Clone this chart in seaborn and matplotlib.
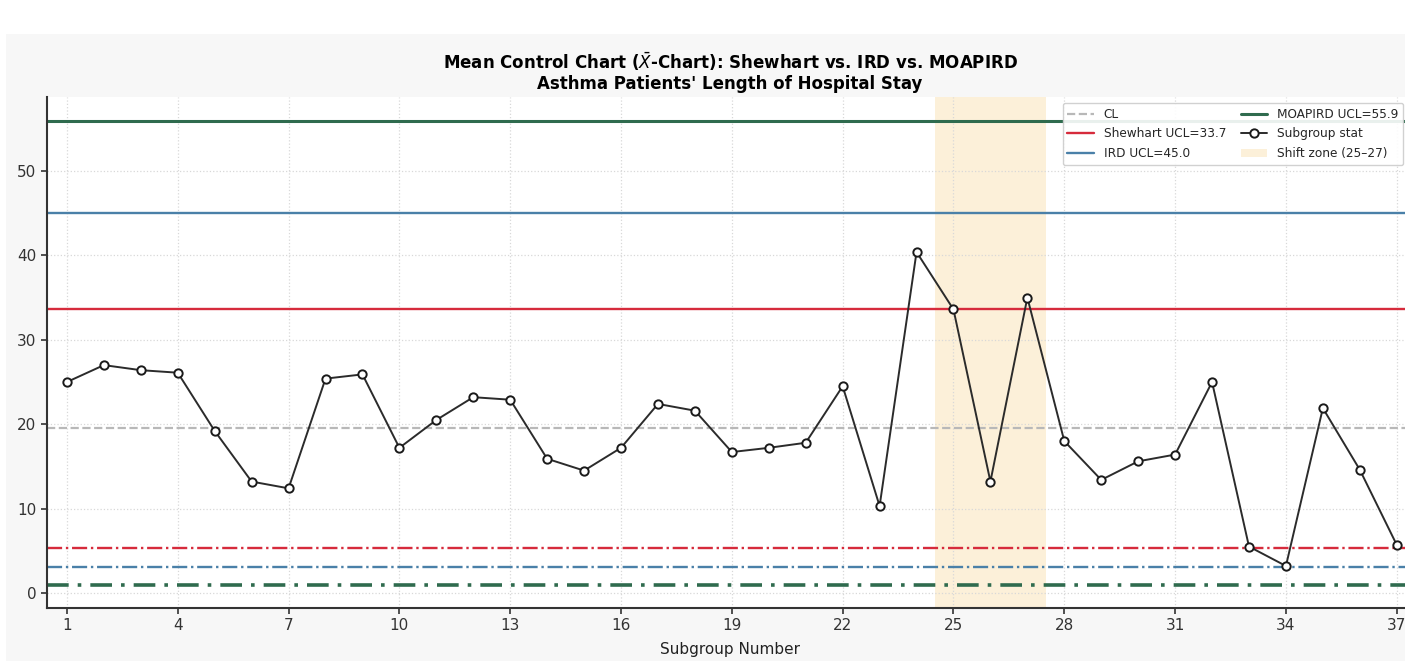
import numpy as np
import pandas as pd
import matplotlib
matplotlib.use("Agg")
import matplotlib.pyplot as plt
from matplotlib.patches import Rectangle
import seaborn as sns

# Subgroup means of length of stay (days)
subgroups = list(range(1, 38))
subgroup_means = [25.0, 27.0, 26.4, 26.1, 19.2, 13.2, 12.4, 25.4, 25.9, 17.2,
                  20.5, 23.2, 22.9, 15.9, 14.5, 17.2, 22.4, 21.6, 16.7, 17.2,
                  17.8, 24.5, 10.3, 40.4, 33.6, 13.2, 35.0, 18.0, 13.4, 15.6,
                  16.4, 25.0, 5.5, 3.2, 21.9, 14.6, 5.7]

center_line = 19.5
shewhart_limits = (5.3, 33.7)   # (LCL, UCL)
ird_limits = (3.1, 45.0)
moapird_limits = (1.0, 55.9)
shift_zone = (25, 27)
x_ticks = list(range(1, 38, 3))
y_ticks = [0, 10, 20, 30, 40, 50]

c_shewhart = "#d62b3c"
c_ird = "#4a80a8"
c_moapird = "#2f6b4e"
c_cl = "#b8b8b8"
c_zone = "#fbe3b5"

sns.set_style("white")
plt.rcParams["font.family"] = ["DejaVu Sans"]

W, H = 1405, 661
fig = plt.figure(figsize=(W / 100, H / 100), dpi=100, facecolor="white")
# light panel behind the plot
fig.patches.append(Rectangle((6 / W, 0), 1, (H - 34) / H, transform=fig.transFigure,
                             facecolor="#f7f7f7", edgecolor="none", zorder=-10))

ax = fig.add_axes([47 / W, (H - 608) / H, (1413 - 47) / W, (608 - 97) / H])
ax.set_facecolor("white")

ax.axvspan(shift_zone[0] - 0.5, shift_zone[1] + 0.5, color=c_zone, alpha=0.5,
           lw=0, zorder=0, label=f"Shift zone ({shift_zone[0]}\u2013{shift_zone[1]})")

ax.axhline(center_line, color=c_cl, ls="--", lw=1.6, label="CL", zorder=1)
ax.axhline(shewhart_limits[1], color=c_shewhart, lw=1.7,
           label=f"Shewhart UCL={shewhart_limits[1]:.1f}", zorder=2)
ax.axhline(shewhart_limits[0], color=c_shewhart, lw=1.7, ls="-.", zorder=2)
ax.axhline(ird_limits[1], color=c_ird, lw=1.7,
           label=f"IRD UCL={ird_limits[1]:.1f}", zorder=2)
ax.axhline(ird_limits[0], color=c_ird, lw=1.7, ls="-.", zorder=2)
ax.axhline(moapird_limits[1], color=c_moapird, lw=2.2,
           label=f"MOAPIRD UCL={moapird_limits[1]:.1f}", zorder=2)
ax.axhline(moapird_limits[0], color=c_moapird, lw=2.6, ls=(0, (6, 2.5, 1, 2.5)), zorder=2)

df = pd.DataFrame({"subgroup": subgroups, "mean": subgroup_means})
sns.lineplot(data=df, x="subgroup", y="mean", ax=ax, color="#2b2b2b", lw=1.4,
             marker="o", markersize=6, markerfacecolor="white",
             markeredgecolor="#1a1a1a", markeredgewidth=1.4,
             label="Subgroup stat", zorder=3)

ax.set_xlim(0.46, 37.44)
ax.set_ylim(-1.78, 58.77)
ax.set_xticks(x_ticks)
ax.set_yticks(y_ticks)
ax.grid(True, ls=":", color="#d8d8d8", lw=0.9)
ax.set_axisbelow(True)
ax.tick_params(axis="both", labelsize=11, colors="#333333", length=4,
               width=1.2, direction="out", bottom=True, left=True)
for side in ("top", "right"):
    ax.spines[side].set_visible(False)
for side in ("left", "bottom"):
    ax.spines[side].set_color("#333333")
    ax.spines[side].set_linewidth(1.5)

ax.set_xlabel("Subgroup Number", fontsize=11, color="#222222", labelpad=6)
ax.set_ylabel("")
ax.set_title("Mean Control Chart ($\\bar{X}$-Chart): Shewhart vs. IRD vs. MOAPIRD\n"
             "Asthma Patients' Length of Hospital Stay",
             fontsize=12, fontweight="bold", color="black", pad=6, linespacing=1.1)

handles, labels = ax.get_legend_handles_labels()
order = ["CL", f"Shewhart UCL={shewhart_limits[1]:.1f}", f"IRD UCL={ird_limits[1]:.1f}",
         f"MOAPIRD UCL={moapird_limits[1]:.1f}", "Subgroup stat",
         f"Shift zone ({shift_zone[0]}\u2013{shift_zone[1]})"]
hmap = dict(zip(labels, handles))
leg = ax.legend([hmap[k] for k in order], order, loc="upper right", ncol=2,
                bbox_to_anchor=(1403 / W, 1 - 103 / H), bbox_transform=fig.transFigure,
                fontsize=8.7, frameon=True, framealpha=0.9, edgecolor="#cccccc",
                borderaxespad=0.0, columnspacing=1.2, handlelength=2.2,
                labelspacing=0.55)

fig.savefig("out.png", dpi=100, facecolor=fig.get_facecolor())
